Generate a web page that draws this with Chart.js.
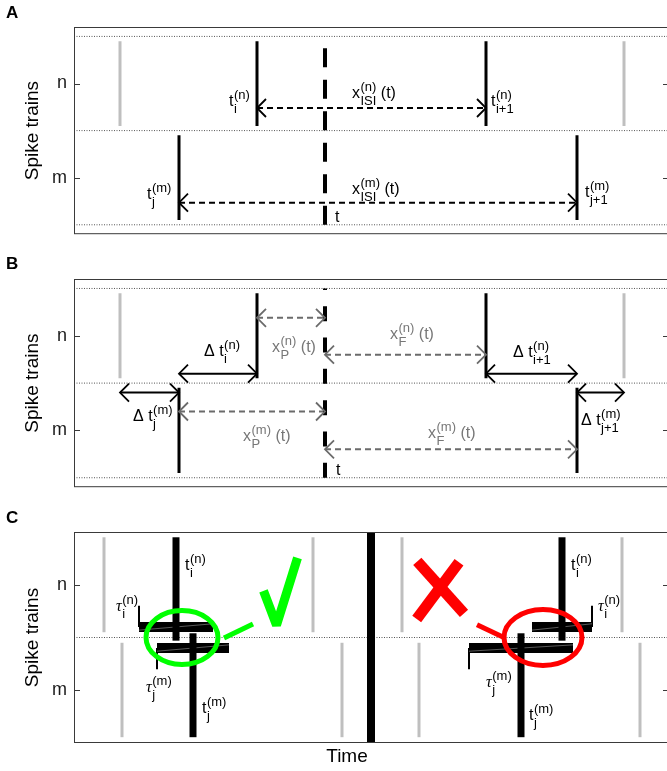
<!DOCTYPE html>
<html><head><meta charset="utf-8">
<script src="https://cdn.jsdelivr.net/npm/chart.js@4/dist/chart.umd.min.js"></script>
<style>
html,body{margin:0;padding:0;background:#fff;overflow:hidden;width:667px;height:771px;position:relative;}
canvas{position:absolute;left:0;}
</style></head><body>
<canvas id="cA" width="680" height="252" style="top:0px"></canvas>
<canvas id="cB" width="680" height="253" style="top:252px"></canvas>
<canvas id="cC" width="680" height="266" style="top:505px"></canvas>
<script>
// ---------------- data ----------------
const rowValues = [1, 2];
const rowLabels = ['m', 'n'];
const rowBounds = [0.5, 1.5, 2.5];

// Panels A & B: spike times (time units)
const nSpikesGray  = [46, 550];
const nSpikesBlack = [183, 412];   // t_i^(n), t_{i+1}^(n)
const mSpikesBlack = [105, 503];   // t_j^(m), t_{j+1}^(m)
const tNow = 251;

// Panel A: ISI arrows
const isiFrom = [183, 105];
const isiTo   = [412, 503];
const isiRow  = [1.74, 0.735];

// Panel B: previous / following spike arrows and spike-distance arrows
const prevFrom = [183, 105];
const prevTo   = [251, 251];
const prevRow  = [2.19, 1.20];
const follFrom = [251, 251];
const follTo   = [412, 503];
const follRow  = [1.80, 0.80];
const dtFrom = [105, 412, 46, 503];
const dtTo   = [183, 503, 105, 550];
const dtRow  = [1.6, 1.6, 1.4, 1.4];

// Panel C: two examples separated by a divider
const cDivider = 297;
const cGrayN  = [30, 239, 328, 548];
const cGrayM  = [48, 268, 345, 566];
const cSpikeN = [102, 488];
const cSpikeM = [119, 447];
const cTauN   = [37, 30];
const cTauM   = [36, 52];
const cTauNTickSide = [-1, 1];
const cTauMTickSide = [-1, -1];

// ---------------- style ----------------
const FAM = "'Liberation Sans', Arial, Helvetica, sans-serif";
const BLACK = '#000000', GRAY_SPK = '#bfbfbf', GRAY_ARW = '#6b6b6b', GRAY_TXT = '#777777';
const XMAX = 595;

function seg(x1, y1, x2, y2, st) {
  return Object.assign({data: [{x: x1, y: y1}, {x: x2, y: y2}], showLine: true, pointRadius: 0,
    pointHoverRadius: 0, borderCapStyle: 'butt', fill: false, tension: 0}, st);
}
function finalize(ds) { const n = ds.length; ds.forEach((d, i) => { d.order = n - i; }); return ds; }

function drawLabel(ctx, px, py, L) {
  ctx.save();
  ctx.fillStyle = L.color || BLACK;
  ctx.textBaseline = 'alphabetic';
  ctx.textAlign = 'left';
  let x = px;
  if (L.pre) { ctx.font = '16px ' + FAM; ctx.fillText(L.pre, x, py); x += ctx.measureText(L.pre).width; }
  ctx.font = L.italic ? "italic 16px 'Liberation Serif', serif" : '16px ' + FAM;
  ctx.fillText(L.base, x, py); x += ctx.measureText(L.base).width;
  ctx.font = '13px ' + FAM;
  let w = 0;
  if (L.sup) { ctx.fillText(L.sup, x + 0.5, py - 7); w = Math.max(w, ctx.measureText(L.sup).width); }
  if (L.sub) { ctx.fillText(L.sub, x + 0.5, py + 7); w = Math.max(w, ctx.measureText(L.sub).width); }
  x += w + 0.5;
  if (L.post) { ctx.font = '16px ' + FAM; ctx.fillText(L.post, x, py); }
  ctx.restore();
}

function makeAnnot(spec) {
  return {
    id: 'annot',
    afterDatasetsDraw(chart) {
      const {ctx, chartArea: a, scales: {x, y}} = chart;
      const X = v => x.getPixelForValue(v), Y = v => y.getPixelForValue(v);
      ctx.save();
      // frame
      ctx.strokeStyle = '#3a3a3a'; ctx.lineWidth = 1;
      ctx.strokeRect(Math.round(a.left) + 0.5, Math.round(a.top) + 0.5, a.right - a.left, a.bottom - a.top - 1);
      // inward ticks
      rowValues.forEach(v => {
        const py = Math.round(Y(v)) + 0.5;
        ctx.beginPath();
        ctx.moveTo(a.left, py); ctx.lineTo(a.left + 6, py);
        ctx.moveTo(a.right - 6, py); ctx.lineTo(a.right, py);
        ctx.stroke();
      });
      // arrow heads
      (spec.arrows || []).forEach(ar => {
        ctx.strokeStyle = ar.color; ctx.lineWidth = 1.8; ctx.setLineDash([]);
        ctx.lineCap = 'butt'; ctx.lineJoin = 'miter';
        [[ar.from, -1], [ar.to, 1]].forEach(([xv, dir]) => {
          const tx = X(xv), ty = Y(ar.y);
          ctx.beginPath();
          ctx.moveTo(tx - dir * 9, ty - 9); ctx.lineTo(tx, ty); ctx.lineTo(tx - dir * 9, ty + 9);
          ctx.stroke();
        });
      });
      // shapes
      (spec.shapes || []).forEach(s => {
        ctx.strokeStyle = s.color; ctx.lineWidth = s.width; ctx.setLineDash([]);
        ctx.beginPath();
        if (s.type === 'ellipse') {
          ctx.ellipse(X(s.cx), Y(s.cy), Math.abs(X(s.cx + s.rx) - X(s.cx)), Math.abs(Y(s.cy + s.ry) - Y(s.cy)), 0, 0, Math.PI * 2);
        } else {
          ctx.lineCap = 'butt'; ctx.lineJoin = s.join || 'miter';
          s.pts.forEach((p, i) => { if (i) ctx.lineTo(X(p[0]), Y(p[1])); else ctx.moveTo(X(p[0]), Y(p[1])); });
        }
        ctx.stroke();
      });
      // labels
      (spec.labels || []).forEach(L => drawLabel(ctx, X(L.x), Y(L.y), L));
      // plain texts
      (spec.texts || []).forEach(t => {
        ctx.fillStyle = BLACK; ctx.font = t.font; ctx.textAlign = t.align || 'left'; ctx.textBaseline = 'alphabetic';
        const px = t.x !== undefined ? X(t.x) : t.px;
        const py = t.py !== undefined ? t.py : a.bottom + t.below;
        ctx.fillText(t.text, px, py);
      });
      ctx.restore();
    }
  };
}

function makeChart(id, datasets, ymin, ymax, pad, spec) {
  return new Chart(document.getElementById(id), {
    type: 'scatter',
    data: {datasets: finalize(datasets)},
    options: {
      responsive: false, animation: false, devicePixelRatio: 1, events: [],
      layout: {padding: pad},
      plugins: {legend: {display: false}, tooltip: {enabled: false}},
      scales: {
        x: {type: 'linear', min: 0, max: XMAX, display: false},
        y: {
          type: 'linear', min: ymin, max: ymax, position: 'left',
          afterBuildTicks: s => { s.ticks = rowValues.map(v => ({value: v})); },
          afterFit: s => { s.width = 74; },
          grid: {display: false, drawTicks: false}, border: {display: false},
          ticks: {font: {family: FAM, size: 18}, color: '#1a1a1a', padding: 7,
                  callback: v => { const i = rowValues.indexOf(v); return i >= 0 ? rowLabels[i] : ''; }},
          title: {display: true, text: 'Spike trains', color: '#000', font: {family: FAM, size: 19},
                  padding: {top: 21, bottom: 0}}
        }
      }
    },
    plugins: [makeAnnot(spec)]
  });
}

const dotted = (yv) => seg(0, yv, XMAX, yv, {borderColor: '#555', borderWidth: 1, borderDash: [1, 1.5]});
const nRow = [1.55, 2.45], mRow = [0.55, 1.45];

// ---------------- Panel A ----------------
(function () {
  const ds = [];
  rowBounds.forEach(b => ds.push(dotted(b)));
  nSpikesGray.forEach(t => ds.push(seg(t, nRow[0], t, nRow[1], {borderColor: GRAY_SPK, borderWidth: 3})));
  nSpikesBlack.forEach(t => ds.push(seg(t, nRow[0], t, nRow[1], {borderColor: BLACK, borderWidth: 3})));
  mSpikesBlack.forEach(t => ds.push(seg(t, mRow[0], t, mRow[1], {borderColor: BLACK, borderWidth: 3})));
  const arrows = [];
  isiFrom.forEach((f, i) => {
    ds.push(seg(f, isiRow[i], isiTo[i], isiRow[i], {borderColor: BLACK, borderWidth: 2, borderDash: [6, 4]}));
    arrows.push({from: f, to: isiTo[i], y: isiRow[i], color: BLACK});
  });
  ds.push(seg(tNow, 0.5, tNow, 2.5, {borderColor: BLACK, borderWidth: 4, borderDash: [19, 12.5]}));
  makeChart('cA', ds, 0.4, 2.6, {top: 27, bottom: 15, left: 0, right: 11}, {
    arrows,
    labels: [
      {x: 155, y: 1.762, base: 't', sub: 'i', sup: '(n)'},
      {x: 417, y: 1.762, base: 't', sub: 'i+1', sup: '(n)'},
      {x: 278, y: 1.846, base: 'x', sub: 'ISI', sup: '(n)', post: ' (t)'},
      {x: 278, y: 0.829, base: 'x', sub: 'ISI', sup: '(m)', post: ' (t)'},
      {x: 73, y: 0.777, base: 't', sub: 'j', sup: '(m)'},
      {x: 511, y: 0.80, base: 't', sub: 'j+1', sup: '(m)'},
      {x: 261, y: 0.525, base: 't'}
    ],
    texts: [{text: 'A', px: 6, py: 18, font: 'bold 17px ' + FAM}]
  });
})();

// ---------------- Panel B ----------------
(function () {
  const ds = [];
  rowBounds.forEach(b => ds.push(dotted(b)));
  nSpikesGray.forEach(t => ds.push(seg(t, nRow[0], t, nRow[1], {borderColor: GRAY_SPK, borderWidth: 3})));
  nSpikesBlack.forEach(t => ds.push(seg(t, nRow[0], t, nRow[1], {borderColor: BLACK, borderWidth: 3})));
  mSpikesBlack.forEach(t => ds.push(seg(t, mRow[0], t, mRow[1], {borderColor: BLACK, borderWidth: 3})));
  const arrows = [];
  prevFrom.forEach((f, i) => {
    ds.push(seg(f, prevRow[i], prevTo[i], prevRow[i], {borderColor: GRAY_ARW, borderWidth: 2, borderDash: [6, 4]}));
    arrows.push({from: f, to: prevTo[i], y: prevRow[i], color: GRAY_ARW});
  });
  follFrom.forEach((f, i) => {
    ds.push(seg(f, follRow[i], follTo[i], follRow[i], {borderColor: GRAY_ARW, borderWidth: 2, borderDash: [6, 4]}));
    arrows.push({from: f, to: follTo[i], y: follRow[i], color: GRAY_ARW});
  });
  dtFrom.forEach((f, i) => {
    ds.push(seg(f, dtRow[i], dtTo[i], dtRow[i], {borderColor: BLACK, borderWidth: 2}));
    arrows.push({from: f, to: dtTo[i], y: dtRow[i], color: BLACK});
  });
  ds.push(seg(tNow, 0.5, tNow, 2.5, {borderColor: BLACK, borderWidth: 4, borderDash: [15, 16.3]}));
  makeChart('cB', ds, 0.4, 2.6, {top: 27, bottom: 15, left: 0, right: 11}, {
    arrows,
    labels: [
      {x: 130, y: 1.786, pre: 'Δ ', base: 't', sub: 'i', sup: '(n)'},
      {x: 198, y: 1.828, base: 'x', sub: 'P', sup: '(n)', post: ' (t)', color: GRAY_TXT},
      {x: 316, y: 1.964, base: 'x', sub: 'F', sup: '(n)', post: ' (t)', color: GRAY_TXT},
      {x: 439, y: 1.776, pre: 'Δ ', base: 't', sub: 'i+1', sup: '(n)'},
      {x: 59, y: 1.098, pre: 'Δ ', base: 't', sub: 'j', sup: '(m)'},
      {x: 169, y: 0.889, base: 'x', sub: 'P', sup: '(m)', post: ' (t)', color: GRAY_TXT},
      {x: 354, y: 0.921, base: 'x', sub: 'F', sup: '(m)', post: ' (t)', color: GRAY_TXT},
      {x: 507, y: 1.056, pre: 'Δ ', base: 't', sub: 'j+1', sup: '(m)'},
      {x: 262, y: 0.524, base: 't'}
    ],
    texts: [{text: 'B', px: 6, py: 17, font: 'bold 17px ' + FAM}]
  });
})();

// ---------------- Panel C ----------------
(function () {
  const ds = [];
  ds.push(dotted(1.5));
  cGrayN.forEach(t => ds.push(seg(t, 1.55, t, 2.45, {borderColor: GRAY_SPK, borderWidth: 3})));
  cGrayM.forEach(t => ds.push(seg(t, 0.555, t, 1.45, {borderColor: GRAY_SPK, borderWidth: 3})));
  ds.push(seg(cDivider, 0.5, cDivider, 2.5, {borderColor: BLACK, borderWidth: 8}));
  cSpikeN.forEach((t, i) => {
    const tau = cTauN[i], e = t + cTauNTickSide[i] * tau;
    ds.push(seg(e, 1.6, e, 1.8, {borderColor: BLACK, borderWidth: 2}));
    ds.push(seg(t - tau, 1.6, t + tau, 1.6, {borderColor: BLACK, borderWidth: 10}));
    ds.push(seg(t - tau, 1.57, t + tau, 1.63, {borderColor: 'rgba(255,255,255,0.7)', borderWidth: 0.5}));
  });
  cSpikeM.forEach((t, i) => {
    const tau = cTauM[i], e = t + cTauMTickSide[i] * tau;
    ds.push(seg(e, 1.4, e, 1.2, {borderColor: BLACK, borderWidth: 2}));
    ds.push(seg(t - tau, 1.4, t + tau, 1.4, {borderColor: BLACK, borderWidth: 10}));
    ds.push(seg(t - tau, 1.37, t + tau, 1.43, {borderColor: 'rgba(255,255,255,0.7)', borderWidth: 0.5}));
  });
  cSpikeN.forEach(t => ds.push(seg(t, 1.47, t, 2.45, {borderColor: BLACK, borderWidth: 7})));
  cSpikeM.forEach(t => ds.push(seg(t, 0.555, t, 1.54, {borderColor: BLACK, borderWidth: 7})));
  makeChart('cC', ds, 0.5, 2.5, {top: 27, bottom: 28, left: 0, right: 11}, {
    shapes: [
      {type: 'ellipse', cx: 108, cy: 1.5, rx: 36, ry: 0.256, color: '#00ff00', width: 5},
      {type: 'poly', pts: [[150, 1.495], [179, 1.628]], color: '#00ff00', width: 5},
      {type: 'poly', pts: [[189.5, 1.941], [202.5, 1.618], [223.5, 2.254]], color: '#00ff00', width: 9, join: 'bevel'},
      {type: 'ellipse', cx: 469, cy: 1.5, rx: 39, ry: 0.265, color: '#ff0000', width: 5},
      {type: 'poly', pts: [[403, 1.62], [431, 1.495]], color: '#ff0000', width: 5},
      {type: 'poly', pts: [[343.3, 2.222], [390, 1.729]], color: '#ff0000', width: 11},
      {type: 'poly', pts: [[385, 2.214], [342.7, 1.676]], color: '#ff0000', width: 11}
    ],
    labels: [
      {x: 111, y: 2.14, base: 't', sub: 'i', sup: '(n)'},
      {x: 42, y: 1.747, base: 'τ', sub: 'i', sup: '(n)', italic: true},
      {x: 72, y: 0.979, base: 'τ', sub: 'j', sup: '(m)', italic: true},
      {x: 128, y: 0.789, base: 't', sub: 'j', sup: '(m)'},
      {x: 497, y: 2.14, base: 't', sub: 'i', sup: '(n)'},
      {x: 524, y: 1.747, base: 'τ', sub: 'i', sup: '(n)', italic: true},
      {x: 412, y: 1.031, base: 'τ', sub: 'j', sup: '(m)', italic: true},
      {x: 455, y: 0.722, base: 't', sub: 'j', sup: '(m)'}
    ],
    texts: [
      {text: 'C', px: 6, py: 18, font: 'bold 17px ' + FAM},
      {text: 'Time', x: 273, below: 19, align: 'center', font: '19px ' + FAM}
    ]
  });
})();
</script>
</body></html>
